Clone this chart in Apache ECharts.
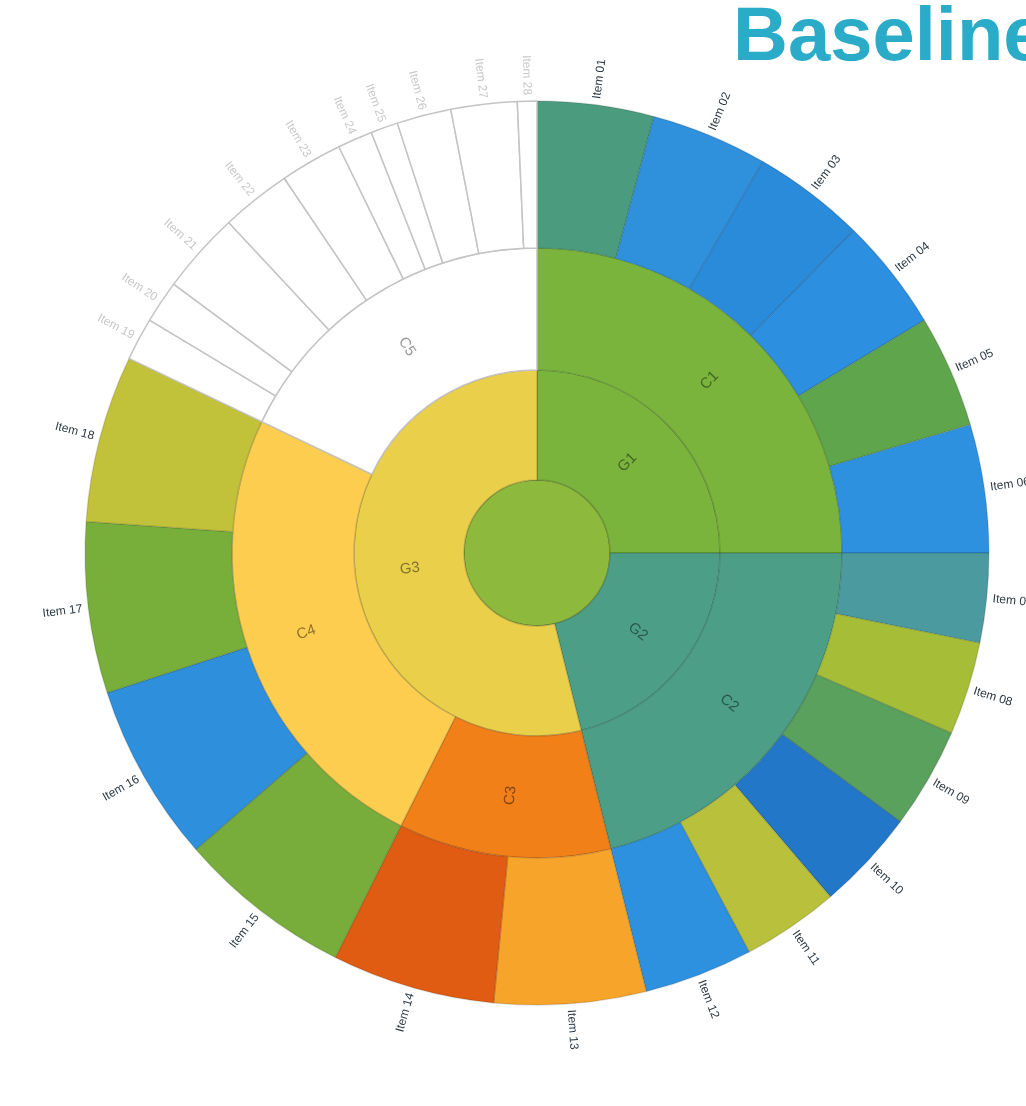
<!DOCTYPE html>
<html>
<head>
<meta charset="utf-8">
<script src="https://cdn.jsdelivr.net/npm/echarts@6/dist/echarts.min.js"></script>
<style>
  html, body { margin: 0; padding: 0; background: #fff; }
  #chart { width: 1026px; height: 1106px; }
</style>
</head>
<body>
<div id="chart"></div>
<script>
// ---- data ----
const titleText = 'Baseline';
const groupNames = ['G1', 'G2', 'G3'];
const groupColors = ['#7ab43c', '#4c9f86', '#e9cf4a'];
const catNames = ['C1', 'C2', 'C3', 'C4', 'C5'];
const catParent = [0, 1, 2, 2, 2];
const catColors = ['#7ab43c', '#4c9f86', '#f28019', '#fccd4e', '#ffffff'];
const c1Values = [15, 15, 14.5, 14.5, 14.5, 16.5];
const c1Colors = ['#4b9c7e', '#2f90dc', '#2a8bda', '#2d8fdf', '#5fa54c', '#2e91e0'];
const c2Values = [11.5, 12, 13, 13, 12.5, 14];
const c2Colors = ['#4b9aa0', '#a6bd38', '#5aa15e', '#2277c8', '#b8c03c', '#2e91e0'];
const c3Values = [19.5, 21];
const c3Colors = ['#f6a42a', '#e05c12'];
const c4Values = [22.5, 23, 22, 21.5];
const c4Colors = ['#79ad3b', '#2e8fdc', '#78ae3a', '#c2c13a'];
const c5Values = [5.5, 5.5, 10.5, 9, 8, 4.5, 3.5, 7, 8.5, 2.5];
const leafValues = [c1Values, c2Values, c3Values, c4Values, c5Values];
const leafColors = [c1Colors, c2Colors, c3Colors, c4Colors, ['#ffffff']];

// ---- build tree ----
let leafCounter = 1;
function leaves(ci) {
  return leafValues[ci].map((v, i) => {
    const white = ci === 4;
    const col = white ? '#ffffff' : leafColors[ci][i];
    const name = 'Item ' + String(leafCounter++).padStart(2, '0');
    return {
      name: name,
      value: v,
      itemStyle: { color: col, borderColor: white ? '#c4c4c4' : 'rgba(0,0,0,0.12)' },
      label: { color: white ? '#c8c8c8' : '#2d3a44' }
    };
  });
}
const groups = groupNames.map((g, gi) => ({
  name: g,
  itemStyle: { color: groupColors[gi] },
  children: catNames.map((c, ci) => ({ c, ci })).filter(o => catParent[o.ci] === gi).map(o => ({
    name: o.c,
    itemStyle: {
      color: catColors[o.ci],
      borderColor: o.ci === 4 ? '#c4c4c4' : 'rgba(0,0,0,0.15)'
    },
    label: { color: o.ci === 4 ? '#999' : 'rgba(0,0,0,0.45)' },
    children: leaves(o.ci)
  }))
}));
const data = [{ name: '', itemStyle: { color: '#8dba3c' }, children: groups }];

const chart = echarts.init(document.getElementById('chart'));
chart.setOption({
  animation: false,
  title: {
    text: titleText,
    left: 728, top: -4,
    textStyle: { fontFamily: 'Liberation Sans, Arial', fontWeight: 'bold', fontSize: 76, color: '#2aabc8' }
  },
  series: [{
    type: 'sunburst',
    center: [537, 553],
    sort: null,
    nodeClick: false,
    startAngle: 90,
    data: data,
    itemStyle: { borderWidth: 1.5, borderColor: 'rgba(0,0,0,0.15)' },
    label: { fontSize: 14, fontFamily: 'Liberation Sans, Arial', rotate: 'radial' },
    levels: [
      {},
      { r0: 0, r: 73, label: { show: false }, itemStyle: { borderColor: 'rgba(0,0,0,0.25)' } },
      { r0: 73, r: 183, label: { color: 'rgba(0,0,0,0.45)', fontSize: 15 } },
      { r0: 183, r: 305, label: { fontSize: 15 } },
      { r0: 305, r: 452, label: { position: 'outside', rotate: 'radial', fontSize: 12, distance: 6 } }
    ]
  }]
});
</script>
</body>
</html>
